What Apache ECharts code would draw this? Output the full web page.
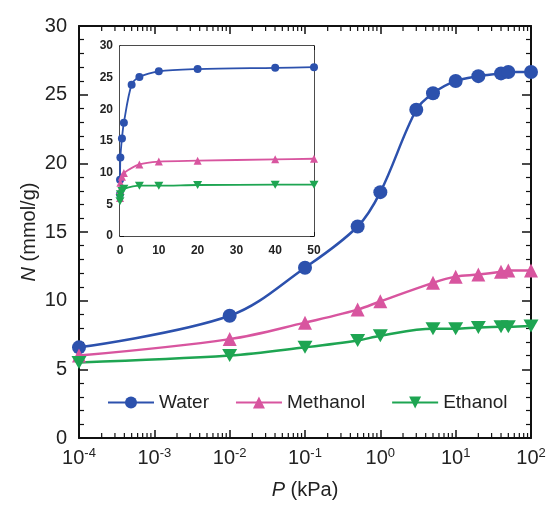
<!DOCTYPE html>
<html lang="en">
<head>
<meta charset="UTF-8">
<title>Adsorption isotherms</title>
<script src="https://cdn.jsdelivr.net/npm/echarts@6/dist/echarts.min.js"></script>
<style type="text/css">
body{margin:0; padding:0; background:#fff;}
#main{width:550px;height:507px;}
</style>
</head>
<body>
<div id="main"></div>
<script type="text/javascript">
// pressure points (kPa)
var pWater = [0.0001, 0.01, 0.1, 0.5, 1, 3, 5, 10, 20, 40, 50, 100];
var nWater = [6.6, 8.9, 12.4, 15.4, 17.9, 23.9, 25.1, 26.0, 26.35, 26.55, 26.65, 26.65];
var pAlcohol = [0.0001, 0.01, 0.1, 0.5, 1, 5, 10, 20, 40, 50, 100];
var nMethanol = [6.0, 7.2, 8.4, 9.35, 9.95, 11.3, 11.75, 11.9, 12.1, 12.2, 12.2];
var nEthanol = [5.5, 6.0, 6.6, 7.1, 7.45, 7.95, 7.95, 8.05, 8.1, 8.1, 8.15];
var xTickLabels = {'-4': '-4', '-3': '-3', '-2': '-2', '-1': '-1', '0': '0', '1': '1', '2': '2'};

var FONT = 'Liberation Sans';
var cWater = '#2c51ad', cMeth = '#d8559f', cEth = '#1ea552';
var triDown = 'path://M0,0 L10,0 L5,9 Z';

function pairs(xs, ys, maxX) {
    var out = [];
    for (var i = 0; i < xs.length; i++) {
        if (maxX == null || xs[i] <= maxX) out.push([xs[i], ys[i]]);
    }
    return out;
}

// log minor tick positions 2..9 per decade
var minorLog = [];
for (var d = -4; d < 2; d++) {
    for (var m = 2; m <= 9; m++) minorLog.push([m * Math.pow(10, d), 0]);
}

var myChart = echarts.init(document.getElementById('main'));

var frameLine = {show: true, onZero: false, lineStyle: {color: '#111', width: 2}};
var insetLine = {show: true, onZero: false, lineStyle: {color: '#111', width: 1.5}};
var tickIn = function (len, w) {
    return {show: true, inside: true, length: len, lineStyle: {color: '#111', width: w}};
};

var option = {
    backgroundColor: '#fff',
    animation: false,
    textStyle: {fontFamily: FONT},
    legend: {
        data: ['Water', 'Methanol', 'Ethanol'],
        left: 102,
        top: 388,
        itemWidth: 46,
        itemHeight: 15,
        itemGap: 26,
        textStyle: {fontSize: 19, color: '#222', fontFamily: FONT}
    },
    grid: [
        {left: 79, top: 26, right: 19, bottom: 69},
        {left: 120, top: 46, width: 194, height: 190, show: true, backgroundColor: '#fff', borderWidth: 0, z: 5}
    ],
    xAxis: [
        {
            type: 'log', logBase: 10, min: 0.0001, max: 100, gridIndex: 0, position: 'bottom',
            splitNumber: 6,
            axisLine: frameLine, axisTick: tickIn(8, 1.5), splitLine: {show: false},
            axisLabel: {
                margin: 9, color: '#222',
                formatter: function (v) {
                    var e = Math.round(Math.log(v) / Math.LN10);
                    return '{b|10}{s|' + xTickLabels[String(e)] + '}';
                },
                rich: {
                    b: {fontSize: 20, fontFamily: FONT, color: '#222'},
                    s: {fontSize: 13, fontFamily: FONT, color: '#222', verticalAlign: 'top', padding: [0, 0, 9, 0]}
                }
            },
            name: '{i|P} (kPa)', nameLocation: 'middle', nameGap: 42,
            nameTextStyle: {fontSize: 20, color: '#222', fontFamily: FONT,
                rich: {i: {fontSize: 20, fontStyle: 'italic', fontFamily: FONT, color: '#222'}}}
        },
        {
            type: 'log', logBase: 10, min: 0.0001, max: 100, gridIndex: 0, position: 'top',
            splitNumber: 6,
            axisLine: frameLine, axisTick: tickIn(8, 1.5), axisLabel: {show: false}, splitLine: {show: false}
        },
        {
            type: 'value', min: 0, max: 50, interval: 10, gridIndex: 1, position: 'bottom',
            axisLine: insetLine,
            axisTick: tickIn(4, 1), minorTick: {show: true, splitNumber: 10, length: 2, lineStyle: {color: '#111'}},
            splitLine: {show: false},
            axisLabel: {margin: 9, fontSize: 12, fontWeight: 'bold', color: '#222', fontFamily: FONT}
        },
        {
            type: 'value', min: 0, max: 50, interval: 10, gridIndex: 1, position: 'top',
            axisLine: insetLine,
            axisTick: tickIn(4, 1), minorTick: {show: true, splitNumber: 10, length: 2, lineStyle: {color: '#111'}},
            splitLine: {show: false}, axisLabel: {show: false}
        }
    ],
    yAxis: [
        {
            type: 'value', min: 0, max: 30, interval: 5, gridIndex: 0, position: 'left',
            axisLine: frameLine, axisTick: tickIn(9, 1.5),
            minorTick: {show: true, splitNumber: 5, length: 5, lineStyle: {color: '#111', width: 1.2}},
            splitLine: {show: false},
            axisLabel: {margin: 12, fontSize: 20, color: '#222', fontFamily: FONT},
            name: '{i|N} (mmol/g)', nameLocation: 'middle', nameGap: 40, nameMoveOverlap: false,
            nameTextStyle: {fontSize: 20, color: '#222', fontFamily: FONT,
                rich: {i: {fontSize: 20, fontStyle: 'italic', fontFamily: FONT, color: '#222'}}}
        },
        {
            type: 'value', min: 0, max: 30, interval: 5, gridIndex: 0, position: 'right',
            axisLine: frameLine, axisTick: tickIn(9, 1.5),
            minorTick: {show: true, splitNumber: 5, length: 5, lineStyle: {color: '#111', width: 1.2}},
            splitLine: {show: false}, axisLabel: {show: false}
        },
        {
            type: 'value', min: 0, max: 30, interval: 5, gridIndex: 1, position: 'left',
            axisLine: insetLine,
            axisTick: tickIn(4, 1), minorTick: {show: true, splitNumber: 5, length: 2, lineStyle: {color: '#111'}},
            splitLine: {show: false},
            axisLabel: {margin: 7, fontSize: 12, fontWeight: 'bold', color: '#222', fontFamily: FONT}
        },
        {
            type: 'value', min: 0, max: 30, interval: 5, gridIndex: 1, position: 'right',
            axisLine: insetLine,
            axisTick: tickIn(4, 1), minorTick: {show: true, splitNumber: 5, length: 2, lineStyle: {color: '#111'}},
            splitLine: {show: false}, axisLabel: {show: false}
        }
    ],
    series: [
        {
            type: 'custom', xAxisIndex: 0, yAxisIndex: 0, silent: true, z: 3,
            data: minorLog,
            renderItem: function (params, api) {
                var p = api.coord([api.value(0), 1]);
                var cs = params.coordSys;
                var st = {stroke: '#111', lineWidth: 1.2};
                return {
                    type: 'group',
                    children: [
                        {type: 'line', shape: {x1: p[0], y1: cs.y + cs.height, x2: p[0], y2: cs.y + cs.height - 5}, style: st},
                        {type: 'line', shape: {x1: p[0], y1: cs.y, x2: p[0], y2: cs.y + 5}, style: st}
                    ]
                };
            }
        },
        {
            name: 'Water', type: 'line', xAxisIndex: 0, yAxisIndex: 0, smooth: 0.35,
            data: pairs(pWater, nWater), symbol: 'circle', symbolSize: 14,
            itemStyle: {color: cWater}, lineStyle: {color: cWater, width: 2.5}, z: 4
        },
        {
            name: 'Methanol', type: 'line', xAxisIndex: 0, yAxisIndex: 0, smooth: 0.35,
            data: pairs(pAlcohol, nMethanol), symbol: 'triangle', symbolSize: 14,
            itemStyle: {color: cMeth}, lineStyle: {color: cMeth, width: 2.5}, z: 4
        },
        {
            name: 'Ethanol', type: 'line', xAxisIndex: 0, yAxisIndex: 0, smooth: 0.35,
            data: pairs(pAlcohol, nEthanol), symbol: triDown, symbolSize: [15, 13],
            itemStyle: {color: cEth}, lineStyle: {color: cEth, width: 2.5}, z: 4
        },
        {
            name: 'Water', type: 'line', xAxisIndex: 2, yAxisIndex: 2, smooth: 0.3,
            data: pairs(pWater, nWater, 50), symbol: 'circle', symbolSize: 8,
            itemStyle: {color: cWater}, lineStyle: {color: cWater, width: 1.8}, z: 6
        },
        {
            name: 'Methanol', type: 'line', xAxisIndex: 2, yAxisIndex: 2, smooth: 0.3,
            data: pairs(pAlcohol, nMethanol, 50), symbol: 'triangle', symbolSize: 8,
            itemStyle: {color: cMeth}, lineStyle: {color: cMeth, width: 1.8}, z: 6
        },
        {
            name: 'Ethanol', type: 'line', xAxisIndex: 2, yAxisIndex: 2, smooth: 0.3,
            data: pairs(pAlcohol, nEthanol, 50), symbol: triDown, symbolSize: [9, 8],
            itemStyle: {color: cEth}, lineStyle: {color: cEth, width: 1.8}, z: 6
        }
    ]
};
myChart.setOption(option);
</script>
</body>
</html>
